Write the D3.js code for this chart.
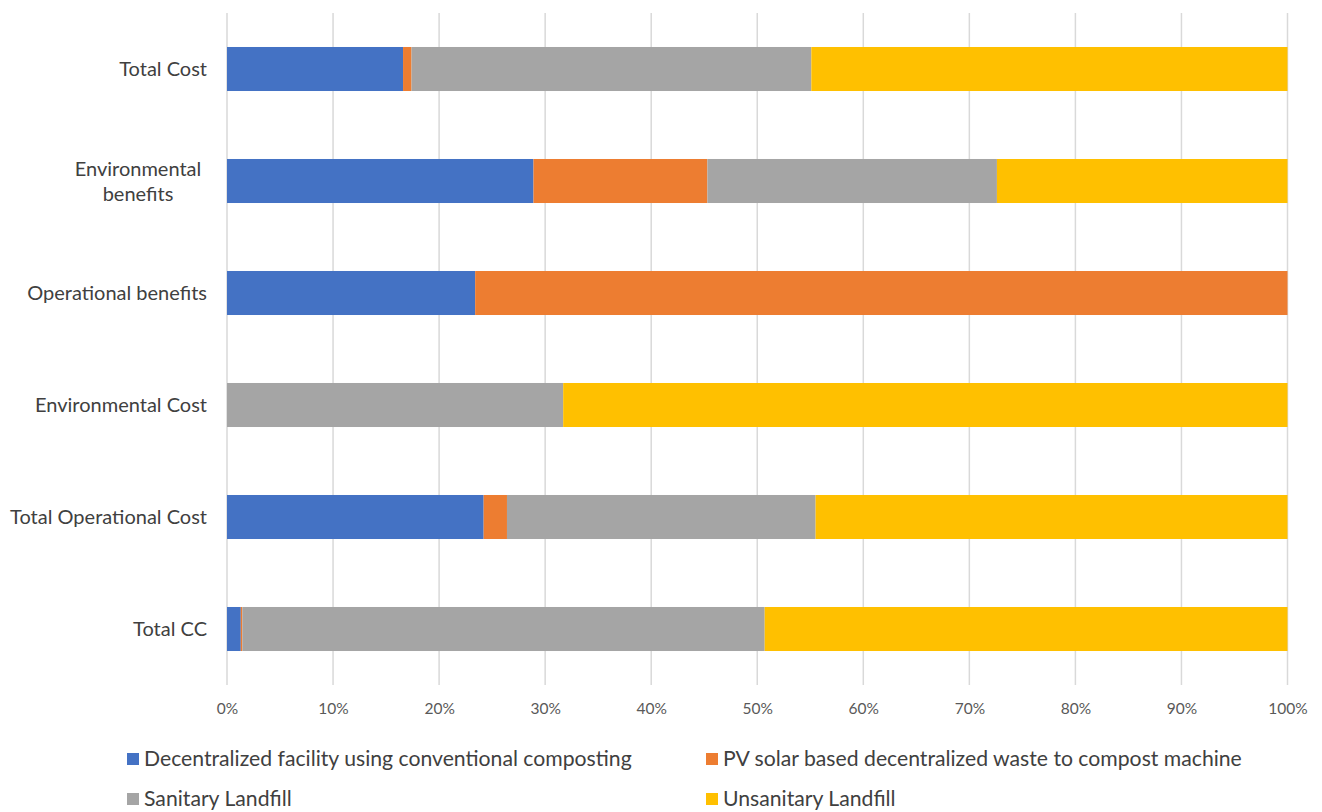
<!DOCTYPE html>
<html>
<head>
<meta charset="utf-8">
<script src="https://cdn.jsdelivr.net/npm/d3@7/dist/d3.min.js"></script>
<style>
  html, body { margin: 0; padding: 0; background: #ffffff; }
  svg { display: block; }
  text { font-family: Lato, "Open Sans", "Noto Sans", sans-serif; }
</style>
</head>
<body>
<svg id="chart" width="1322" height="812"></svg>
<script>
// ---- data ----
const categories = ["Total Cost", "Environmental benefits", "Operational benefits", "Environmental Cost", "Total Operational Cost", "Total CC"];
const seriesNames = [
  "Decentralized facility using conventional composting",
  "PV solar based decentralized waste to compost machine",
  "Sanitary Landfill",
  "Unsanitary Landfill"
];
const decentralized = [16.6, 28.9, 23.4, 0, 24.2, 1.3];
const pvSolar       = [0.8, 16.4, 76.6, 0, 2.2, 0.15];
const sanitary      = [37.7, 27.3, 0, 31.7, 29.1, 49.25];
const unsanitary    = [44.9, 27.4, 0, 68.3, 44.5, 49.3];
const tickValues = [0, 0.1, 0.2, 0.3, 0.4, 0.5, 0.6, 0.7, 0.8, 0.9, 1.0];
const colors = ["#4472C4", "#ED7D31", "#A5A5A5", "#FFC000"];

// ---- build normalized table ----
const seriesValues = [decentralized, pvSolar, sanitary, unsanitary];
const table = categories.map((c, i) => {
  const row = { category: c };
  const total = seriesValues.reduce((s, arr) => s + arr[i], 0);
  seriesNames.forEach((n, k) => { row[n] = seriesValues[k][i] / total; });
  return row;
});
const stacked = d3.stack().keys(seriesNames)(table);

const svg = d3.select("#chart");
const x = d3.scaleLinear().domain([0, 1]).range([227, 1287.5]);
const y = d3.scaleBand().domain(categories).range([13, 685]).paddingInner(0.607).paddingOuter(0.3035);
const color = d3.scaleOrdinal().domain(seriesNames).range(colors);

// gridlines
svg.append("g")
  .selectAll("line")
  .data(tickValues)
  .join("line")
  .attr("x1", d => x(d)).attr("x2", d => x(d))
  .attr("y1", 13).attr("y2", 685)
  .attr("stroke", "#D9D9D9")
  .attr("stroke-width", 1.5);

// bars
svg.append("g")
  .selectAll("g")
  .data(stacked)
  .join("g")
  .attr("fill", d => color(d.key))
  .selectAll("rect")
  .data(d => d)
  .join("rect")
  .attr("x", d => x(d[0]))
  .attr("y", d => y(d.data.category))
  .attr("width", d => Math.max(0, x(d[1]) - x(d[0])))
  .attr("height", y.bandwidth());

// x axis (tick labels only)
const xAxis = d3.axisBottom(x).tickValues(tickValues).tickFormat(d3.format(".0%")).tickSize(0).tickPadding(0);
const gx = svg.append("g").attr("transform", "translate(0,700)").call(xAxis);
gx.select(".domain").remove();
gx.selectAll("text").attr("fill", "#595959").attr("font-size", 15.5).attr("dy", "0.9em")
  .style("font-family", "Lato, 'Open Sans', sans-serif");

// y axis labels (custom wrap for long label)
const yLabels = { "Environmental benefits": ["Environmental", "benefits"] };
const gy = svg.append("g");
categories.forEach(c => {
  const cy = y(c) + y.bandwidth() / 2;
  const lines = yLabels[c];
  if (lines) {
    const t = gy.append("text")
      .attr("x", 138).attr("y", cy)
      .attr("text-anchor", "middle")
      .attr("fill", "#404040").attr("font-size", 20);
    lines.forEach((ln, i) => {
      t.append("tspan").attr("x", 138).attr("y", cy + (i - (lines.length - 1) / 2) * 25).attr("dy", "0.35em").text(ln);
    });
  } else {
    gy.append("text")
      .attr("x", 207).attr("y", cy).attr("dy", "0.35em")
      .attr("text-anchor", "end")
      .attr("fill", "#404040").attr("font-size", 20)
      .text(c);
  }
});

// legend
const legendPos = [[127, 759], [706, 759], [127, 799], [706, 799]];
const lg = svg.append("g");
seriesNames.forEach((n, i) => {
  const [lx, ly] = legendPos[i];
  lg.append("rect").attr("x", lx).attr("y", ly - 6).attr("width", 12).attr("height", 12).attr("fill", colors[i]);
  lg.append("text").attr("x", lx + 17).attr("y", ly).attr("dy", "0.35em")
    .attr("fill", "#404040").attr("font-size", 21.2).text(n);
});
</script>
</body>
</html>
